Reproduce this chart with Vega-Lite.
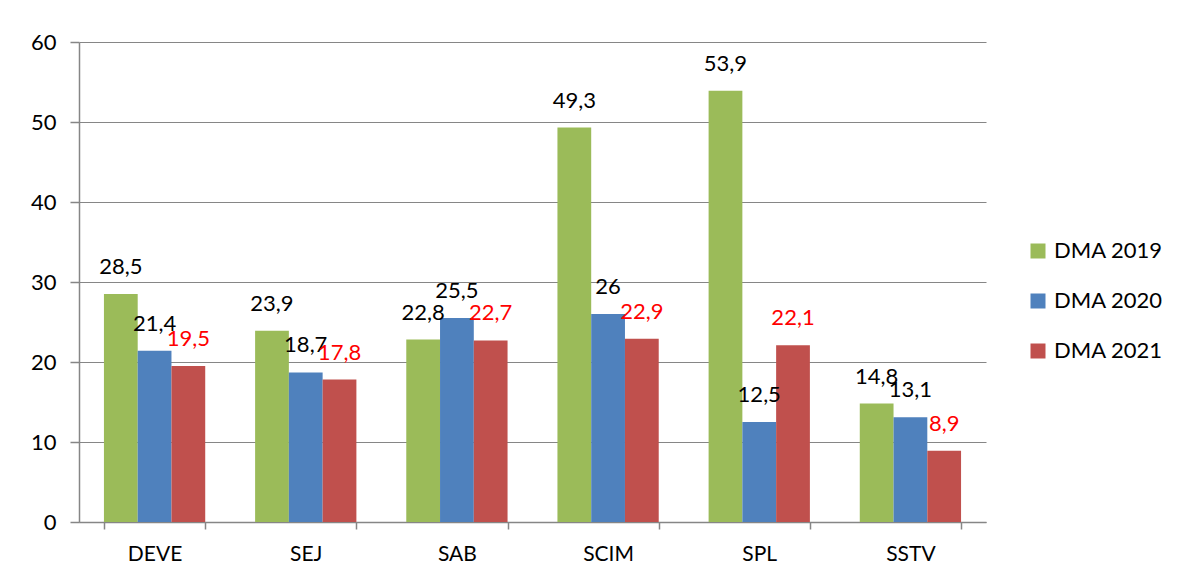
{
  "$schema": "https://vega.github.io/schema/vega-lite/v6.json",
  "width": 907,
  "height": 480,
  "autosize": {"type": "none"},
  "padding": {"left": 79, "top": 42, "right": 193, "bottom": 60},
  "background": "white",
  "config": {
    "locale": {"number": {"decimal": ",", "thousands": ".", "grouping": [3], "currency": ["", " €"]}},
    "view": {"stroke": null},
    "font": "Lato"
  },
  "data": {
    "values": [
      {"setor": "DEVE", "serie": "DMA 2019", "valor": 28.5},
      {"setor": "DEVE", "serie": "DMA 2020", "valor": 21.4},
      {"setor": "DEVE", "serie": "DMA 2021", "valor": 19.5},
      {"setor": "SEJ", "serie": "DMA 2019", "valor": 23.9},
      {"setor": "SEJ", "serie": "DMA 2020", "valor": 18.7},
      {"setor": "SEJ", "serie": "DMA 2021", "valor": 17.8},
      {"setor": "SAB", "serie": "DMA 2019", "valor": 22.8},
      {"setor": "SAB", "serie": "DMA 2020", "valor": 25.5},
      {"setor": "SAB", "serie": "DMA 2021", "valor": 22.7},
      {"setor": "SCIM", "serie": "DMA 2019", "valor": 49.3},
      {"setor": "SCIM", "serie": "DMA 2020", "valor": 26},
      {"setor": "SCIM", "serie": "DMA 2021", "valor": 22.9},
      {"setor": "SPL", "serie": "DMA 2019", "valor": 53.9},
      {"setor": "SPL", "serie": "DMA 2020", "valor": 12.5},
      {"setor": "SPL", "serie": "DMA 2021", "valor": 22.1},
      {"setor": "SSTV", "serie": "DMA 2019", "valor": 14.8},
      {"setor": "SSTV", "serie": "DMA 2020", "valor": 13.1},
      {"setor": "SSTV", "serie": "DMA 2021", "valor": 8.9}
    ]
  },
  "encoding": {
    "x": {
      "field": "setor",
      "type": "nominal",
      "sort": ["DEVE", "SEJ", "SAB", "SCIM", "SPL", "SSTV"],
      "scale": {"paddingInner": 0.33, "paddingOuter": 0.165},
      "axis": {
        "title": null,
        "labelAngle": 0,
        "labelFontSize": 21,
        "labelColor": "black",
        "labelPadding": 14,
        "tickBand": "extent",
        "tickSize": 7,
        "tickColor": "#868686",
        "domainColor": "#868686",
        "domainWidth": 1.5,
        "tickWidth": 1.5
      }
    },
    "xOffset": {
      "field": "serie",
      "type": "nominal",
      "scale": {"paddingInner": 0, "paddingOuter": 0}
    },
    "y": {
      "field": "valor",
      "type": "quantitative",
      "scale": {"domain": [0, 60]},
      "axis": {
        "title": null,
        "values": [0, 10, 20, 30, 40, 50, 60],
        "labelFontSize": 22,
        "labelColor": "black",
        "labelPadding": 14,
        "tickSize": 9,
        "tickColor": "#868686",
        "domainColor": "#868686",
        "gridColor": "#868686",
        "domainWidth": 1.5,
        "tickWidth": 1.5,
        "gridWidth": 1.2
      }
    }
  },
  "layer": [
    {
      "mark": {"type": "bar"},
      "encoding": {
        "color": {
          "field": "serie",
          "type": "nominal",
          "scale": {"domain": ["DMA 2019", "DMA 2020", "DMA 2021"], "range": ["#9BBB59", "#4F81BD", "#C0504D"]},
          "legend": {
            "title": null,
            "orient": "none",
            "legendX": 948,
            "legendY": 198,
            "symbolType": "square",
            "symbolSize": 225,
            "symbolStrokeWidth": 0,
            "labelFontSize": 22,
            "labelColor": "black",
            "rowPadding": 28,
            "labelOffset": 5
          }
        }
      }
    },
    {
      "mark": {"type": "text", "dy": -27, "baseline": "middle", "fontSize": 22},
      "encoding": {
        "text": {"field": "valor", "type": "quantitative", "format": "~g"},
        "color": {
          "condition": {"test": "datum.serie === 'DMA 2021'", "value": "#FF0000"},
          "value": "black"
        }
      }
    }
  ]
}
